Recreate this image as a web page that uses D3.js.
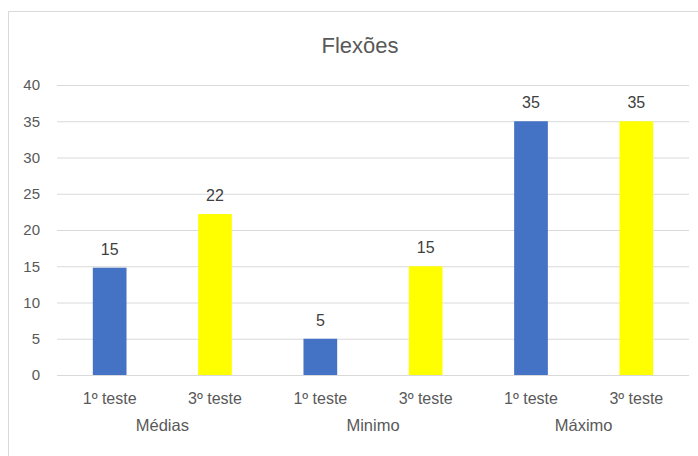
<!DOCTYPE html>
<html>
<head>
<meta charset="utf-8">
<script src="https://cdn.jsdelivr.net/npm/d3@7"></script>
<style>
  html, body { margin: 0; padding: 0; background: #fff; }
  svg { display: block; font-family: "Liberation Sans", Arial, sans-serif; }
</style>
</head>
<body>
<svg id="chart" width="698" height="456"></svg>
<script>
// --- data ---
var groups = ['Médias', 'Minimo', 'Máximo'];
var series = ['1º teste', '3º teste'];
var teste1 = [14.8, 5, 35];
var teste3 = [22.2, 15, 35];
var yTicks = [0, 5, 10, 15, 20, 25, 30, 35, 40];
var colors = ['#4472C4', '#FFFF00'];

var svg = d3.select('#chart');

// outer frame (runs off the right and bottom edge)
svg.append('rect')
  .attr('x', 8.5).attr('y', 11.5)
  .attr('width', 720).attr('height', 470)
  .attr('fill', '#fff')
  .attr('stroke', '#d9d9d9');

// title
svg.append('text')
  .attr('x', 360).attr('y', 53)
  .attr('text-anchor', 'middle')
  .attr('font-size', 22)
  .attr('fill', '#595959')
  .text('Flexões');

// plot area (not called "top" - that name is taken by window.top)
var plotL = 57, plotR = 689, plotT = 85, plotB = 375;

var y = d3.scaleLinear().domain([0, 40]).range([plotB, plotT]);
var x0 = d3.scaleBand().domain(groups).range([plotL, plotR]).padding(0);
var x1 = d3.scaleBand().domain(series).range([0, x0.bandwidth()]).padding(0);
var barW = x1.bandwidth() * 0.32;

// gridlines + y labels
var yAxis = svg.append('g')
  .attr('transform', 'translate(' + plotL + ',0)')
  .call(d3.axisLeft(y).tickValues(yTicks).tickSize(-(plotR - plotL)).tickPadding(17));
yAxis.select('.domain').remove();
yAxis.selectAll('line').attr('stroke', '#d9d9d9').attr('stroke-width', 1);
yAxis.selectAll('text')
  .attr('fill', '#595959')
  .attr('font-size', 15)
  .attr('font-family', '"Liberation Sans", Arial, sans-serif');

// bars
var rows = [];
groups.forEach(function(g, i) {
  rows.push({ group: g, serie: series[0], value: teste1[i], color: colors[0] });
  rows.push({ group: g, serie: series[1], value: teste3[i], color: colors[1] });
});

var cx = function(d) { return x0(d.group) + x1(d.serie) + x1.bandwidth() / 2; };

svg.append('g').selectAll('rect')
  .data(rows)
  .enter()
  .append('rect')
  .attr('x', function(d) { return cx(d) - barW / 2; })
  .attr('y', function(d) { return y(d.value); })
  .attr('width', barW)
  .attr('height', function(d) { return y(0) - y(d.value); })
  .attr('fill', function(d) { return d.color; });

// value labels
var fmt = d3.format('.0f');
svg.append('g').selectAll('text')
  .data(rows)
  .enter()
  .append('text')
  .attr('x', cx)
  .attr('y', function(d) { return y(d.value) - 13; })
  .attr('text-anchor', 'middle')
  .attr('font-size', 16)
  .attr('fill', '#404040')
  .text(function(d) { return fmt(d.value); });

// x axis: series labels per group, then group names
groups.forEach(function(g) {
  var ax = svg.append('g')
    .attr('transform', 'translate(' + x0(g) + ',' + plotB + ')')
    .call(d3.axisBottom(x1).tickSize(0).tickPadding(0));
  ax.select('.domain').remove();
  ax.selectAll('text')
    .attr('y', 29).attr('dy', null)
    .attr('fill', '#595959')
    .attr('font-size', 16)
    .attr('font-family', '"Liberation Sans", Arial, sans-serif');
});

svg.append('g').selectAll('text')
  .data(groups)
  .enter()
  .append('text')
  .attr('x', function(g) { return x0(g) + x0.bandwidth() / 2; })
  .attr('y', 431)
  .attr('text-anchor', 'middle')
  .attr('font-size', 16.5)
  .attr('fill', '#595959')
  .text(function(g) { return g; });
</script>
</body>
</html>
